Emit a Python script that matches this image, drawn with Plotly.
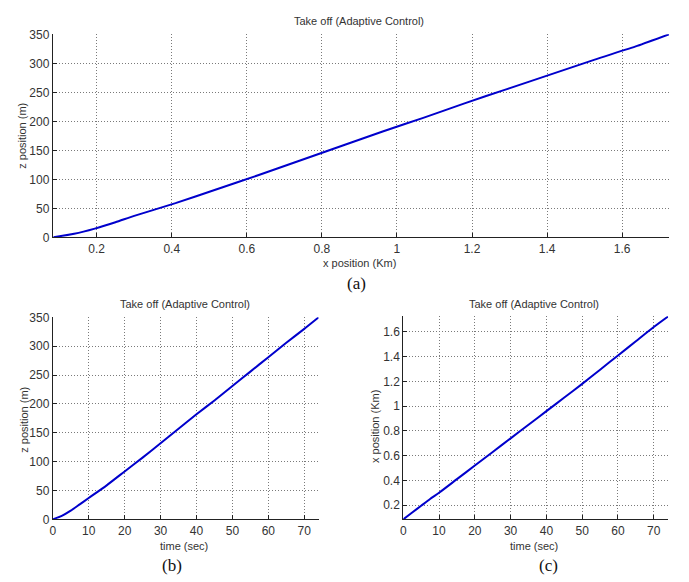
import plotly.graph_objects as go

# ---- data ----
time_sec = [0, 2.5, 5, 7.5, 10, 15, 20, 25, 30, 35, 40, 45, 50, 55, 60, 65, 70, 74]
x_km = [0.085, 0.14, 0.195, 0.25, 0.30, 0.41, 0.52, 0.63, 0.74, 0.85, 0.96, 1.07,
        1.18, 1.295, 1.41, 1.525, 1.64, 1.725]
z_m = [0, 6, 15, 26, 37, 59, 83, 107, 132, 157, 182, 206, 231, 256, 281, 306, 330, 350]

z_ticks = [0, 50, 100, 150, 200, 250, 300, 350]
xa_ticks = [0.2, 0.4, 0.6, 0.8, 1.0, 1.2, 1.4, 1.6]
xa_ticktext = ["0.2", "0.4", "0.6", "0.8", "1", "1.2", "1.4", "1.6"]
t_ticks = [0, 10, 20, 30, 40, 50, 60, 70]

title_text = "Take off (Adaptive Control)"

W, H = 689, 582
LINE = "#0000cc"
TXT = "#333333"
FONT = "Liberation Sans, Arial, sans-serif"

def px(x):
    return x / W

def py(y):
    return 1 - y / H

fig = go.Figure()
for xs, ys, xa, ya in [(x_km, z_m, "x", "y"), (time_sec, z_m, "x2", "y2"),
                       (time_sec, x_km, "x3", "y3")]:
    fig.add_trace(go.Scatter(x=xs, y=ys, mode="lines",
                             line=dict(color=LINE, width=2, shape="spline", smoothing=0.6),
                             xaxis=xa, yaxis=ya, showlegend=False))

def ax(domain, rng, tickvals, ticktext=None, anchor=None):
    d = dict(domain=domain, range=rng, tickvals=tickvals,
             showgrid=True, gridcolor="#7a7a7a", griddash="1px,2px", gridwidth=1,
             showline=True, linecolor="#222222", linewidth=1, mirror=False,
             ticks="inside", ticklen=4, tickcolor="#222222",
             zeroline=False, tickfont=dict(family=FONT, size=12, color=TXT),
             fixedrange=True)
    if ticktext is not None:
        d["ticktext"] = ticktext
    if anchor:
        d["anchor"] = anchor
    return d

fig.update_layout(
    width=W, height=H, margin=dict(l=0, r=0, t=0, b=0),
    paper_bgcolor="white", plot_bgcolor="white",
    xaxis=ax([px(50), px(669)], [0.083, 1.725], xa_ticks, xa_ticktext, "y"),
    yaxis=ax([py(236), py(28)], [0, 350], z_ticks, None, "x"),
    xaxis2=ax([px(50), px(317)], [0, 74], t_ticks, None, "y2"),
    yaxis2=ax([py(525), py(318)], [0, 350], z_ticks, None, "x2"),
    xaxis3=ax([px(402), px(668)], [0, 74], t_ticks, None, "y3"),
    yaxis3=ax([py(525), py(317)], [0.085, 1.726], xa_ticks, xa_ticktext, "x3"),
)

def label(text, x, y, size=11, angle=0, family=FONT, color=TXT):
    fig.add_annotation(text=text, x=px(x), y=py(y), xref="paper", yref="paper",
                       showarrow=False, textangle=angle, xanchor="center", yanchor="middle",
                       font=dict(family=family, size=size, color=color))

# titles
label(title_text, 358, 14)
label(title_text, 183, 304)
label(title_text, 533, 304)
# axis titles
label("x position (Km)", 358, 262)
label("z position (m)", 19, 132, angle=-90)
label("time (sec)", 182, 552)
label("z position (m)", 21, 423, angle=-90)
label("time (sec)", 533, 552)
label("x position (Km)", 373, 430, angle=-90)
# panel letters
SERIF = "Liberation Serif, Times New Roman, serif"
label("(a)", 355, 283, size=17, family=SERIF, color="#111111")
label("(b)", 170, 572, size=17, family=SERIF, color="#111111")
label("(c)", 548, 572, size=17, family=SERIF, color="#111111")

fig.write_html("out.html")
